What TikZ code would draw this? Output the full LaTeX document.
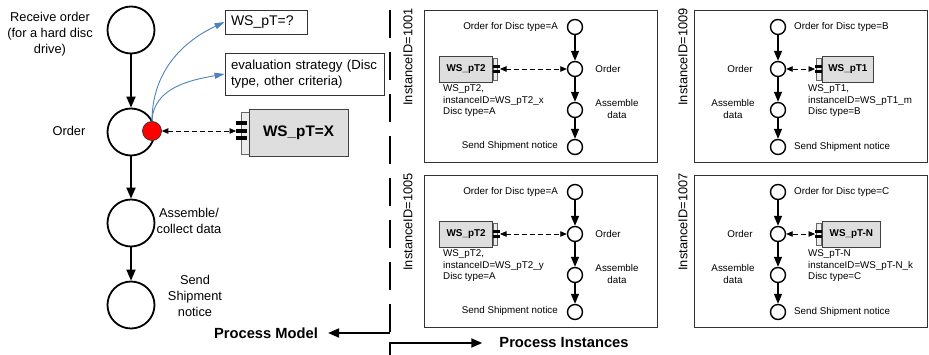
\documentclass[tikz,border=0pt]{standalone}
\usepackage{fontspec}
\setmainfont{Liberation Sans}
\usetikzlibrary{arrows.meta}
\definecolor{arrowblue}{RGB}{79,129,189}
\definecolor{wsgray}{RGB}{222,222,222}
\definecolor{stripgray}{RGB}{236,236,236}
\tikzset{
  big/.style={circle,draw,line width=1.8pt,minimum size=47pt,inner sep=0pt},
  small/.style={circle,draw,line width=1.4pt,minimum size=15pt,inner sep=0pt},
  flow/.style={line width=1.8pt,-{Triangle[width=9pt,length=11pt]}},
  sflow/.style={line width=1.3pt,-{Triangle[width=8pt,length=10pt]}},
  dasharr/.style={line width=0.8pt,dashed,dash pattern=on 5pt off 3pt,{Triangle[width=5.5pt,length=6.5pt]}-{Triangle[width=5.5pt,length=6.5pt]}},
  bluearr/.style={line width=0.9pt,draw=arrowblue,-{Triangle[width=6pt,length=10pt,fill=arrowblue]}},
  lbl/.style={font=\fontsize{12.8}{16}\selectfont,align=center,inner sep=0pt},
  slbl/.style={font=\fontsize{9.8}{11.5}\selectfont,inner sep=0pt},
  idlbl/.style={font=\fontsize{12.8}{15}\selectfont,inner sep=0pt},
  boxline/.style={draw=black!80,line width=0.9pt},
  wsbox/.style={draw=black!75,fill=wsgray,line width=0.8pt,inner sep=0pt,font=\bfseries\fontsize{9.9}{12}\selectfont},
  stripbox/.style={draw=black!60,fill=stripgray,line width=0.6pt,inner sep=0pt},
  textbox/.style={draw=black!80,line width=0.9pt,align=left,inner xsep=6pt,inner ysep=0pt},
  titlelbl/.style={font=\bfseries\fontsize{14.7}{17}\selectfont,inner ysep=0pt}
}
% instance with the service box on the left
\newcommand\instL[7]{%
\begin{scope}[shift={(#2,#3)},name prefix=#1-]
  \draw[boxline] (0,0) rectangle (233,152);
  \node[idlbl,rotate=90] (id) at (-16,47) {InstanceID=#4};
  \node[small] (c1) at (151,17) {};
  \node[small] (c2) at (151,59) {};
  \node[small] (c3) at (151,100) {};
  \node[small] (c4) at (151,137) {};
  \draw[sflow] (c1) -- (c2);
  \draw[sflow] (c2) -- (c3);
  \draw[sflow] (c3) -- (c4);
  \node[slbl,anchor=east] (t1) at (134,17) {Order for Disc type=#5};
  \node[slbl] (t2) at (184,59) {Order};
  \node[slbl,align=center] (t3) at (193,99) {Assemble\\data};
  \node[slbl,anchor=east] (t4) at (134,136) {Send Shipment notice};
  \node[wsbox,anchor=east,minimum width=53pt,minimum height=26pt] (ws) at (69,59) {#6};
  \node[stripbox,anchor=west,minimum width=4pt,minimum height=22pt] (st) at (69,59) {};
  \fill (69,55.3) rectangle (76,57.8);
  \fill (69,60.2) rectangle (76,62.7);
  \coordinate (p) at (76,59);
  \draw[dasharr] (p) -- (c2);
  \node[slbl,anchor=west,align=left] (info) at (19,91) {#7};
\end{scope}}
% instance with the service box on the right
\newcommand\instR[8]{%
\begin{scope}[shift={(#2,#3)},name prefix=#1-]
  \draw[boxline] (0,0) rectangle (233,152);
  \node[idlbl,rotate=90] (id) at (-11,47) {InstanceID=#4};
  \node[small] (c1) at (84,17) {};
  \node[small] (c2) at (84,59) {};
  \node[small] (c3) at (84,100) {};
  \node[small] (c4) at (84,137) {};
  \draw[sflow] (c1) -- (c2);
  \draw[sflow] (c2) -- (c3);
  \draw[sflow] (c3) -- (c4);
  \node[slbl,anchor=west] (t1) at (100,17) {Order for Disc type=#5};
  \node[slbl] (t2) at (46,59) {Order};
  \node[slbl,align=center] (t3) at (39,99) {Assemble\\data};
  \node[slbl,anchor=west] (t4) at (100,137) {Send Shipment notice};
  \node[stripbox,anchor=east,minimum width=5pt,minimum height=22pt] (st) at (128,59) {};
  \node[wsbox,anchor=west,minimum width=#8,minimum height=26pt] (ws) at (128,59) {#6};
  \fill (121,55.3) rectangle (128,57.8);
  \fill (121,60.2) rectangle (128,62.7);
  \coordinate (p) at (121,59);
  \draw[dasharr] (c2) -- (p);
  \node[slbl,anchor=west,align=left] (info) at (114,91) {#7};
\end{scope}}
\begin{document}
\begin{tikzpicture}[x=1pt,y=-1pt]
\useasboundingbox (0,0) rectangle (929,355);
% process model
\node[big] (m1) at (131,30) {};
\node[big] (m2) at (131,132) {};
\node[big] (m3) at (131,223) {};
\node[big] (m4) at (131,305) {};
\draw[flow] (m1) -- (m2);
\draw[flow] (m2) -- (m3);
\draw[flow] (m3) -- (m4);
\node[lbl] (l1) at (50,34) {Receive order\\(for a hard disc\\drive)};
\node[lbl] (l2) at (69,131) {Order};
\node[lbl] (l3) at (189,221) {Assemble/\\collect data};
\node[lbl] (l4) at (195,296) {Send\\Shipment\\notice};
% service boxes
\node[textbox,minimum height=24pt,text width=70pt,font=\fontsize{14}{16}\selectfont] (q) at (266,22) {WS\_pT=?};
\node[textbox,minimum height=42pt,text width=147pt,font=\fontsize{13.2}{16}\selectfont] (ev) at (304.5,74) {evaluation strategy (Disc\\type, other criteria)};
\node[stripbox,minimum width=8pt,minimum height=42pt] (xs) at (245,133) {};
\node[wsbox,minimum width=99pt,minimum height=47pt,font=\bfseries\fontsize{15.3}{18}\selectfont] (wx) at (298.5,132.5) {WS\_pT=X};
\fill (236,121) rectangle (247,125);
\fill (236,129) rectangle (247,133);
\fill (236,136) rectangle (247,140);
\coordinate (wxp) at (236,131);
\node[circle,fill=red,draw=black!80,line width=0.7pt,minimum size=19pt,inner sep=0pt] (rd) at (152,131) {};
\draw[dasharr] (rd) -- (wxp);
\draw[bluearr] (rd.north) to[out=90,in=205] (q.west);
\draw[bluearr] (rd.north) to[out=88,in=190] (ev.west);
% separator and titles
\coordinate (dtop) at (390,10);
\coordinate (pmc) at (390,333);
\coordinate (pic) at (390,343);
\coordinate (pbot) at (390,356);
\draw[line width=1.8pt,dash pattern=on 28pt off 14pt] (dtop) -- (pmc);
\node[titlelbl,inner xsep=10pt] (pm) at (266,333) {Process Model};
\draw[flow] (pmc) -- (pm.east);
\node[titlelbl,inner xsep=17pt] (pi) at (564,343) {Process Instances};
\draw[flow] (pbot) -- (pic) -- (pi.west);
% instances
\instL{A}{424}{10}{1001}{A}{WS\_pT2}{WS\_pT2,\\instanceID=WS\_pT2\_x\\Disc type=A}
\instR{B}{694}{10}{1009}{B}{WS\_pT1}{WS\_pT1,\\instanceID=WS\_pT1\_m\\Disc type=B}{51pt}
\instL{C}{424}{175}{1005}{A}{WS\_pT2}{WS\_pT2,\\instanceID=WS\_pT2\_y\\Disc type=A}
\instR{D}{694}{175}{1007}{C}{WS\_pT-N}{WS\_pT-N\\instanceID=WS\_pT-N\_k\\Disc type=C}{58pt}
\end{tikzpicture}
\end{document}
